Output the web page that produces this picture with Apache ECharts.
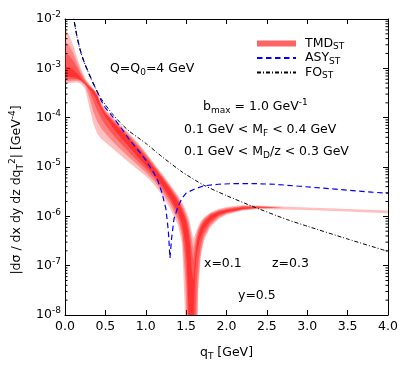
<!DOCTYPE html>
<html><head><meta charset="utf-8">
<script src="https://cdn.jsdelivr.net/npm/echarts@6/dist/echarts.min.js"></script>
<style>html,body{margin:0;padding:0;background:#fff}#c{width:407px;height:370px}</style>
</head><body><div id="c"></div>
<script>
// ---- data (values stored as log10 exponents) ----
const qGrid = [0,0.05,0.1,0.15,0.2,0.25,0.3,0.35,0.4,0.45,0.5,0.6,0.7,0.8,0.9,1.0,1.1,1.2,1.3,1.4,1.45,1.49,1.51,1.53,1.55,1.57,1.59,1.61,1.63,1.65,1.68,1.72,1.8,1.9,2.0,2.2,2.4,2.7,3.0,3.5,4.0];
// TMD band layers: outer (lightest) to core
const tmdUpper0 = [-2.20,-2.32,-2.52,-2.78,-3.02,-3.20,-3.32,-3.41,-3.50,-3.70,-3.83,-4.01,-4.17,-4.33,-4.50,-4.70,-4.92,-5.13,-5.35,-5.58,-5.72,-5.85,-5.93,-6.02,-6.15,-6.32,-6.45,-6.38,-6.28,-6.20,-6.10,-6.02,-5.92,-5.85,-5.81,-5.77,-5.78,-5.80,-5.82,-5.85,-5.88];
const tmdLower0 = [-3.30,-3.30,-3.29,-3.28,-3.31,-3.42,-3.78,-4.12,-4.33,-4.43,-4.50,-4.64,-4.78,-4.92,-5.05,-5.18,-5.35,-5.56,-5.83,-6.18,-6.55,-8.1,-10,-10,-10,-10,-10,-10,-10,-7.5,-6.85,-6.50,-6.22,-6.06,-5.97,-5.88,-5.85,-5.86,-5.87,-5.90,-5.94];
const tmdUpper1 = [-2.45,-2.53,-2.68,-2.88,-3.08,-3.23,-3.34,-3.42,-3.52,-3.73,-3.86,-4.04,-4.20,-4.36,-4.53,-4.73,-4.95,-5.16,-5.38,-5.62,-5.77,-5.92,-6.01,-6.12,-6.28,-6.48,-6.65,-6.50,-6.36,-6.25,-6.14,-6.05,-5.94,-5.87,-5.83,-5.79,-5.79,-5.83,-5.85,-5.88,-5.91];
const tmdLower1 = [-3.26,-3.26,-3.25,-3.25,-3.27,-3.35,-3.58,-3.88,-4.08,-4.22,-4.32,-4.50,-4.66,-4.81,-4.96,-5.11,-5.28,-5.49,-5.75,-6.08,-6.40,-7.3,-8.3,-10,-10,-10,-10,-10,-8.3,-7.3,-6.75,-6.43,-6.18,-6.03,-5.95,-5.87,-5.84,-5.83,-5.85,-5.88,-5.91];
const tmdUpper2 = [-2.69,-2.74,-2.84,-2.98,-3.13,-3.26,-3.36,-3.43,-3.54,-3.76,-3.89,-4.07,-4.23,-4.39,-4.57,-4.76,-4.98,-5.19,-5.41,-5.66,-5.82,-5.98,-6.09,-6.22,-6.42,-6.70,-6.90,-6.65,-6.45,-6.31,-6.18,-6.08,-5.96,-5.89,-5.85,-5.80,-5.80,-5.83,-5.85,-5.88,-5.91];
const tmdLower2 = [-3.22,-3.22,-3.22,-3.22,-3.24,-3.30,-3.45,-3.66,-3.86,-4.02,-4.15,-4.36,-4.54,-4.71,-4.88,-5.04,-5.22,-5.43,-5.68,-6.00,-6.28,-6.85,-7.5,-8.6,-10,-10,-10,-8.6,-7.4,-6.95,-6.60,-6.36,-6.14,-6.00,-5.93,-5.86,-5.83,-5.83,-5.85,-5.88,-5.91];
const tmdUpper3 = [-2.96,-2.98,-3.03,-3.10,-3.20,-3.29,-3.38,-3.44,-3.56,-3.79,-3.92,-4.10,-4.27,-4.43,-4.61,-4.80,-5.01,-5.22,-5.45,-5.71,-5.88,-6.05,-6.18,-6.35,-6.60,-7.10,-7.30,-6.90,-6.58,-6.40,-6.24,-6.12,-5.99,-5.91,-5.87,-5.82,-5.81,-5.83,-5.85,-5.88,-5.91];
const tmdLower3 = [-3.17,-3.17,-3.18,-3.20,-3.25,-3.33,-3.42,-3.52,-3.68,-3.84,-3.98,-4.22,-4.42,-4.60,-4.79,-4.97,-5.16,-5.37,-5.62,-5.92,-6.15,-6.55,-6.95,-7.9,-10,-10,-8.2,-7.2,-6.8,-6.6,-6.42,-6.26,-6.09,-5.97,-5.91,-5.85,-5.82,-5.83,-5.85,-5.88,-5.91];

const asyQ = [0.1,0.12,0.15,0.2,0.25,0.3,0.35,0.4,0.45,0.5,0.6,0.7,0.8,0.9,1.0,1.1,1.15,1.2,1.25,1.28,1.30,1.32,1.35,1.4,1.45,1.5,1.6,1.72,1.9,2.1,2.3,2.6,2.9,3.2,3.5,3.8,4.0];
const asyExp = [-1.88,-2.10,-2.37,-2.70,-2.93,-3.12,-3.30,-3.48,-3.66,-3.80,-4.00,-4.22,-4.45,-4.65,-4.86,-5.12,-5.28,-5.52,-5.85,-6.30,-6.85,-6.45,-6.05,-5.80,-5.63,-5.53,-5.45,-5.38,-5.35,-5.335,-5.335,-5.35,-5.39,-5.43,-5.47,-5.51,-5.53];

const foQ = [0.1,0.11,0.13,0.15,0.184,0.22,0.25,0.286,0.33,0.39,0.45,0.5,0.59,0.7,0.8,0.9,1.0,1.2,1.45,1.72,2.0,2.31,2.74,3.0,3.5,4.0];
const foExp = [-1.88,-2.00,-2.20,-2.37,-2.61,-2.80,-2.93,-3.07,-3.24,-3.44,-3.62,-3.74,-3.93,-4.13,-4.28,-4.40,-4.52,-4.79,-5.10,-5.37,-5.58,-5.79,-6.06,-6.20,-6.46,-6.71];

const xTicks = [0,0.5,1,1.5,2,2.5,3,3.5,4];

// ---- chart ----
const FONT = 'DejaVu Sans';
const rich = {
  b: {fontSize: 12.5, fontFamily: FONT, lineHeight: 17, color: '#000'},
  s: {fontSize: 9, fontFamily: FONT, lineHeight: 10, verticalAlign: 'bottom', color: '#000'},
  p: {fontSize: 9, fontFamily: FONT, lineHeight: 10, verticalAlign: 'top', color: '#000'}
};
const pow10 = e => Math.pow(10, e);
const tmdLayers = [[tmdUpper0,tmdLower0],[tmdUpper1,tmdLower1],[tmdUpper2,tmdLower2],[tmdUpper3,tmdLower3]];
const layerAlpha = [0.25, 0.3, 0.35, 0.45];

function bandSeries(upper, lower, alpha) {
  return {
    type: 'custom', name: 'TMD', clip: true, silent: true,
    data: qGrid.map((q, i) => [q, pow10(upper[i]), pow10(lower[i])]),
    encode: {x: 0, y: [1, 2]},
    renderItem: function (params, api) {
      if (params.dataIndexInside !== 0) return null;
      const n = params.dataInsideLength;
      const pts = [];
      for (let i = 0; i < n; i++) pts.push(api.coord([api.value(0, i), api.value(1, i)]));
      for (let i = n - 1; i >= 0; i--) pts.push(api.coord([api.value(0, i), api.value(2, i)]));
      const cs = params.coordSys;
      return {
        type: 'polygon', shape: {points: pts},
        style: {fill: 'rgba(255,0,0,' + alpha + ')', stroke: null},
        clipPath: {type: 'rect', shape: {x: cs.x, y: cs.y, width: cs.width, height: cs.height}}
      };
    }
  };
}

const minorVals = [];
for (let e = -8; e < -2; e++) for (let k = 2; k <= 9; k++) minorVals.push(k * Math.pow(10, e));

const series = tmdLayers.map((l, k) => bandSeries(l[0], l[1], layerAlpha[k]));
series.push({
  type: 'line', name: 'ASY', symbol: 'none', silent: true, clip: true,
  data: asyQ.map((q, i) => [q, pow10(asyExp[i])]),
  lineStyle: {color: '#0000ff', width: 1.2, type: [5.5, 3.5]}, itemStyle: {color: '#0000ff'}
});
series.push({
  type: 'line', name: 'FO', symbol: 'none', silent: true, clip: true, smooth: 0.2,
  data: foQ.map((q, i) => [q, pow10(foExp[i])]),
  lineStyle: {color: '#000', width: 1, type: [4, 2, 1, 2]}, itemStyle: {color: '#000'}
});
series.push({
  type: 'custom', silent: true, data: minorVals.map(v => [0, v]),
  renderItem: function (params, api) {
    const cs = params.coordSys;
    const y = api.coord([0, api.value(1)])[1];
    return {type: 'group', children: [
      {type: 'line', shape: {x1: cs.x, y1: y, x2: cs.x + 2.5, y2: y}, style: {stroke: '#000', lineWidth: 1}},
      {type: 'line', shape: {x1: cs.x + cs.width, y1: y, x2: cs.x + cs.width - 2.5, y2: y}, style: {stroke: '#000', lineWidth: 1}}
    ]};
  }
});

const axisCommon = {
  axisLine: {show: true, onZero: false, lineStyle: {color: '#000', width: 1}},
  axisTick: {show: true, inside: true, length: 5, lineStyle: {color: '#000', width: 1}},
  splitLine: {show: false}
};

function txt(x, y, text) {
  return {type: 'text', x: x, y: y, silent: true,
    style: {text: text, fontSize: 12.5, fontFamily: FONT, fill: '#000', lineHeight: 17,
      align: 'left', verticalAlign: 'middle', rich: rich}};
}

const option = {
  animation: false,
  textStyle: {fontFamily: FONT},
  grid: {left: 62, right: 19, top: 19, bottom: 55},
  xAxis: [
    Object.assign({type: 'value', min: xTicks[0], max: xTicks[xTicks.length - 1], interval: 0.5, position: 'bottom',
      axisLabel: {margin: 5, fontSize: 12.5, color: '#000', fontFamily: FONT, formatter: v => v.toFixed(1)},
      name: '{b|q}{s|T}{b| [GeV]}', nameLocation: 'middle', nameGap: 29,
      nameTextStyle: {fontSize: 12.5, fontFamily: FONT, color: '#000', lineHeight: 17, rich: rich}}, axisCommon),
    Object.assign({type: 'value', min: 0, max: 4, interval: 0.5, position: 'top',
      axisLabel: {show: false}}, axisCommon)
  ],
  yAxis: [
    Object.assign({type: 'log', logBase: 10, min: 1e-8, max: 1e-2, splitNumber: 6, position: 'left',
      axisLabel: {margin: 4, formatter: v => '{b|10}{p|' + Math.round(Math.log10(v)) + '}', rich: rich},
      name: '{b||dσ / dx dy dz dq}{s|T}{p|2}{b|| [GeV}{p|-4}{b|]}', nameLocation: 'middle', nameGap: 40, nameRotate: 90,
      nameTextStyle: {fontSize: 12.5, fontFamily: FONT, color: '#000', lineHeight: 17, padding: [0, 46, 0, 0], rich: rich}}, axisCommon),
    Object.assign({type: 'log', logBase: 10, min: 1e-8, max: 1e-2, splitNumber: 6, position: 'right',
      axisLabel: {show: false}}, axisCommon)
  ],
  legend: {
    orient: 'vertical', left: 256, top: 37, padding: 0, itemGap: 0, itemWidth: 39, itemHeight: 6,
    selectedMode: false,
    data: [
      {name: 'TMD', icon: 'rect', itemStyle: {color: '#ff6464', opacity: 1}},
      {name: 'ASY', itemStyle: {opacity: 0}},
      {name: 'FO', itemStyle: {opacity: 0}}
    ],
    formatter: n => '{a|' + n + '}{s|ST}',
    textStyle: {padding: [0, 0, 0, 4], rich: {
      a: {fontSize: 12.5, fontFamily: FONT, lineHeight: 16, color: '#000'},
      s: {fontSize: 9, fontFamily: FONT, lineHeight: 10, verticalAlign: 'bottom', color: '#000'}
    }}
  },
  graphic: [
    txt(110, 69, 'Q=Q{s|0}=4 GeV'),
    txt(203, 107, 'b{s|max} = 1.0 GeV{p|-1}'),
    txt(184, 130, '0.1 GeV < M{s|F} < 0.4 GeV'),
    txt(184, 152, '0.1 GeV < M{s|D}/z < 0.3 GeV'),
    txt(204, 264, 'x=0.1'),
    txt(272, 264, 'z=0.3'),
    txt(238, 296, 'y=0.5')
  ],
  series: series
};
const chart = echarts.init(document.getElementById('c'));
chart.setOption(option);
</script></body></html>
